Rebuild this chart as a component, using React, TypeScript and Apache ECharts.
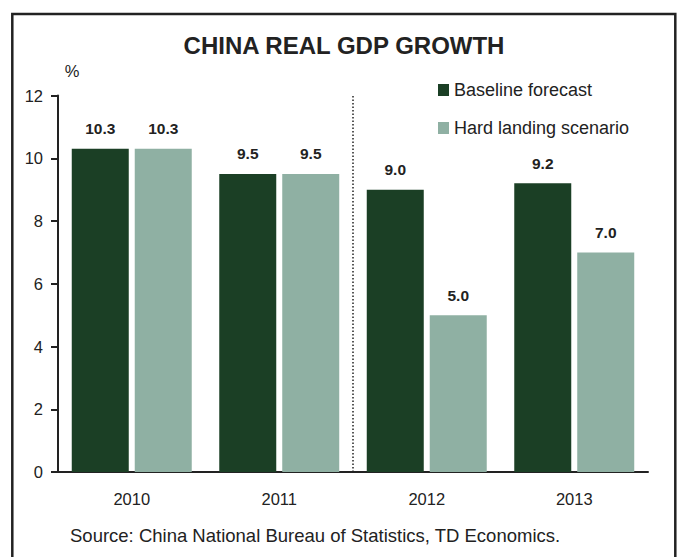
import React, { useEffect, useRef } from "react";
import * as echarts from "echarts";

const categories = ["2010", "2011", "2012", "2013"];
const baselineForecast = [10.3, 9.5, 9.0, 9.2];
const hardLanding = [10.3, 9.5, 5.0, 7.0];
const yTicks = { min: 0, max: 12, interval: 2 };
const forecastDividerAt = 2; // boundary between 2011 and 2012 (in category-boundary units)
const titleText = "CHINA REAL GDP GROWTH";
const unitText = "%";
const sourceText = "Source: China National Bureau of Statistics, TD Economics.";

const FONT = "'Liberation Sans', Arial, Helvetica, sans-serif";
const INK = "#222222";

export default function App() {
  const ref = useRef<HTMLDivElement>(null);
  useEffect(() => {
    if (!ref.current) return;
    const chart = echarts.init(ref.current, undefined, { renderer: "svg" });
    const labelStyle = {
      show: true,
      position: "top",
      distance: 12,
      fontFamily: FONT,
      fontWeight: "bold",
      fontSize: 15.5,
      color: INK,
      formatter: (p: any) => Number(p.value).toFixed(1),
    };
    chart.setOption({
      animation: false,
      backgroundColor: "#ffffff",
      textStyle: { fontFamily: FONT },
      grid: { left: 58, right: 30, top: 95.5, bottom: 85, containLabel: false },
      legend: {
        orient: "vertical",
        left: 433,
        top: 76,
        itemWidth: 11,
        itemHeight: 12,
        itemGap: 20,
        icon: "rect",
        textStyle: { fontFamily: FONT, fontSize: 18, color: INK },
        data: ["Baseline forecast", "Hard landing scenario"],
      },
      xAxis: [
        {
          type: "category",
          data: categories,
          boundaryGap: true,
          axisLine: { show: true, lineStyle: { color: INK, width: 2 } },
          axisTick: { show: false },
          axisLabel: { margin: 18, fontFamily: FONT, fontSize: 16.5, color: INK },
          splitLine: { show: false },
        },
        {
          type: "value",
          min: 0,
          max: categories.length,
          show: false,
          splitLine: { show: false },
        },
      ],
      yAxis: {
        type: "value",
        min: yTicks.min,
        max: yTicks.max,
        interval: yTicks.interval,
        axisLine: { show: true, lineStyle: { color: INK, width: 2 } },
        axisTick: { show: true, inside: false, length: 7, lineStyle: { color: INK, width: 2 } },
        axisLabel: { margin: 15, fontFamily: FONT, fontSize: 16.5, color: INK },
        splitLine: { show: false },
      },
      series: [
        {
          name: "Baseline forecast",
          type: "bar",
          data: baselineForecast,
          barWidth: 57,
          barGap: "10.5%",
          itemStyle: { color: "#1B3F25" },
          label: labelStyle,
        },
        {
          name: "Hard landing scenario",
          type: "bar",
          data: hardLanding,
          barWidth: 57,
          barGap: "10.5%",
          itemStyle: { color: "#8FB0A3" },
          label: labelStyle,
        },
        {
          name: "divider",
          type: "line",
          xAxisIndex: 1,
          data: [
            [forecastDividerAt, yTicks.min],
            [forecastDividerAt, yTicks.max],
          ],
          symbol: "none",
          silent: true,
          z: 1,
          lineStyle: { color: INK, width: 1.5, type: [1.5, 2] },
        },
      ],
      graphic: [
        {
          type: "rect",
          shape: { x: 12.3, y: 14, width: 663, height: 620 },
          style: { fill: "none", stroke: INK, lineWidth: 2.5 },
          silent: true,
        },
        {
          type: "text",
          x: 344,
          y: 45,
          style: {
            text: titleText,
            fontFamily: FONT,
            fontWeight: "bold",
            fontSize: 24,
            fill: INK,
            textAlign: "center",
            textVerticalAlign: "middle",
          },
        },
        {
          type: "text",
          x: 72,
          y: 71,
          style: {
            text: unitText,
            fontFamily: FONT,
            fontSize: 16.5,
            fill: INK,
            textAlign: "center",
            textVerticalAlign: "middle",
          },
        },
        {
          type: "text",
          x: 70,
          y: 535,
          style: {
            text: sourceText,
            fontFamily: FONT,
            fontSize: 18.5,
            fill: INK,
            textAlign: "left",
            textVerticalAlign: "middle",
          },
        },
      ],
    });
    return () => chart.dispose();
  }, []);
  return (
    <div
      ref={ref}
      style={{ position: "absolute", left: 0, top: 0, width: 678, height: 557 }}
    />
  );
}
